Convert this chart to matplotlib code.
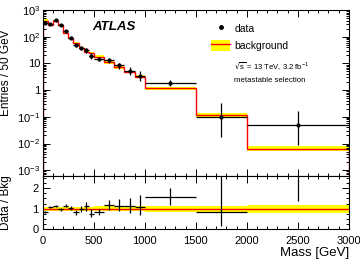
import numpy as np
import matplotlib
matplotlib.use("Agg")
import matplotlib.pyplot as plt
from matplotlib.ticker import MultipleLocator, LogLocator, FuncFormatter, NullFormatter
from matplotlib.lines import Line2D
from matplotlib.patches import Patch

plt.rcParams["font.family"] = ["Liberation Sans", "DejaVu Sans"]
plt.rcParams["mathtext.default"] = "regular"

# bin edges (GeV)
edges = [0, 50, 100, 150, 200, 250, 300, 350, 400, 450, 500,
         600, 700, 800, 900, 1000, 1500, 2000, 3000]
# entries / 50 GeV
data = [335, 295, 430, 271, 166, 93, 48, 38, 31, 19,
        15, 13, 8.4, 5.4, 3.5, 1.8, 0.1, 0.05]
data_err_lo = [18, 17, 21, 16, 13, 9.6, 6.9, 6.2, 5.6, 4.3,
               2.7, 2.5, 2.0, 1.6, 1.3, 0.42, 0.083, 0.041]
data_err_hi = [18, 17, 21, 16, 13, 9.6, 6.9, 6.2, 5.6, 5.4,
               2.8, 2.6, 2.2, 2.0, 1.8, 0.53, 0.23, 0.115]
bkg = [404, 271, 384, 282, 144, 89, 58, 39, 28, 25,
       18, 11, 7.3, 4.8, 3.2, 1.16, 0.12, 0.0065]
bkg_rel_unc = [0.1, 0.1, 0.1, 0.1, 0.1, 0.1, 0.1, 0.1, 0.1, 0.1,
               0.12, 0.12, 0.12, 0.12, 0.12, 0.15, 0.15, 0.2]

edges = np.array(edges, dtype=float)
data = np.array(data)
bkg = np.array(bkg)
unc = np.array(bkg_rel_unc)
centers = 0.5 * (edges[1:] + edges[:-1])
xerr = 0.5 * (edges[1:] - edges[:-1])

fig = plt.figure(figsize=(3.6, 2.59), dpi=100)
ax1 = fig.add_axes([0.119, 0.320, 0.850, 0.641])
ax2 = fig.add_axes([0.119, 0.116, 0.850, 0.204], sharex=ax1)

yellow = "#ffff00"
red = "#ff0000"

# top panel
ax1.stairs(bkg * (1 + unc), edges, baseline=bkg * (1 - unc), fill=True,
           color=yellow, lw=0)
ax1.stairs(bkg, edges, color=red, lw=1.0)
ax1.errorbar(centers, data, xerr=xerr, yerr=[data_err_lo, data_err_hi],
             fmt="o", color="black", ms=2, lw=0.9, capsize=0)
ax1.set_yscale("log")
ax1.set_ylim(6e-4, 1e3)
ax1.set_xlim(0, 3000)
ax1.set_ylabel("Entries / 50 GeV", fontsize=8.5)
ax1.yaxis.set_label_coords(-0.1, 0.62)


def log_fmt(v, pos):
    n = int(round(np.log10(v)))
    if n == 0:
        return "1"
    if n == 1:
        return "10"
    return r"$10^{%d}$" % n


ax1.yaxis.set_major_locator(LogLocator(base=10, numticks=10))
ax1.yaxis.set_minor_locator(LogLocator(base=10, subs=np.arange(2, 10), numticks=20))
ax1.yaxis.set_major_formatter(FuncFormatter(log_fmt))
ax1.yaxis.set_minor_formatter(NullFormatter())

ax1.text(0.16, 0.9, "ATLAS", transform=ax1.transAxes, fontsize=9.5,
         fontweight="bold", fontstyle="italic", va="center")

handles = [Line2D([], [], marker="o", color="black", ls="none", ms=2.5),
           (Patch(facecolor=yellow, edgecolor="none"), Line2D([], [], color=red, lw=1))]
ax1.legend(handles, ["data", "background"], loc="upper left",
           bbox_to_anchor=(0.52, 0.98), frameon=False, fontsize=7.5,
           handlelength=1.8, handleheight=1.2, handletextpad=0.4, labelspacing=0.6)
ax1.text(0.625, 0.64, r"$\sqrt{s}$ = 13 TeV, 3.2 fb$^{-1}$", transform=ax1.transAxes,
         fontsize=5.5)
ax1.text(0.625, 0.565, "metastable selection", transform=ax1.transAxes, fontsize=5.6)

# ratio panel
ratio = data / bkg
ax2.stairs(1 + unc, edges, baseline=1 - unc, fill=True, color=yellow, lw=0)
ax2.hlines(1, 0, 3000, color=red, lw=1.0)
ax2.errorbar(centers, ratio, xerr=xerr,
             yerr=[np.array(data_err_lo) / bkg, np.array(data_err_hi) / bkg],
             fmt="none", color="black", lw=0.9, capsize=0)
ax2.set_ylim(0, 2.6)
ax2.set_xlim(0, 3000)
ax2.set_ylabel("Data / Bkg", fontsize=8.5)
ax2.yaxis.set_label_coords(-0.1, 0.5)
ax2.set_xlabel("Mass [GeV]", fontsize=9.5, loc="right", labelpad=1)
ax2.yaxis.set_major_locator(MultipleLocator(1))
ax2.yaxis.set_minor_locator(MultipleLocator(0.25))

for ax in (ax1, ax2):
    ax.xaxis.set_major_locator(MultipleLocator(500))
    ax.xaxis.set_minor_locator(MultipleLocator(100))
    ax.tick_params(which="both", direction="in", top=True, right=True,
                   labelsize=8, width=0.7, pad=2)
    ax.tick_params(which="major", length=5)
    ax.tick_params(which="minor", length=2.5)
    for s in ax.spines.values():
        s.set_linewidth(0.8)
ax1.tick_params(axis="x", labelbottom=False)
ax2.tick_params(axis="x", pad=5)
ax2.tick_params(axis="y", pad=3)

fig.savefig("out.png", dpi=100)
